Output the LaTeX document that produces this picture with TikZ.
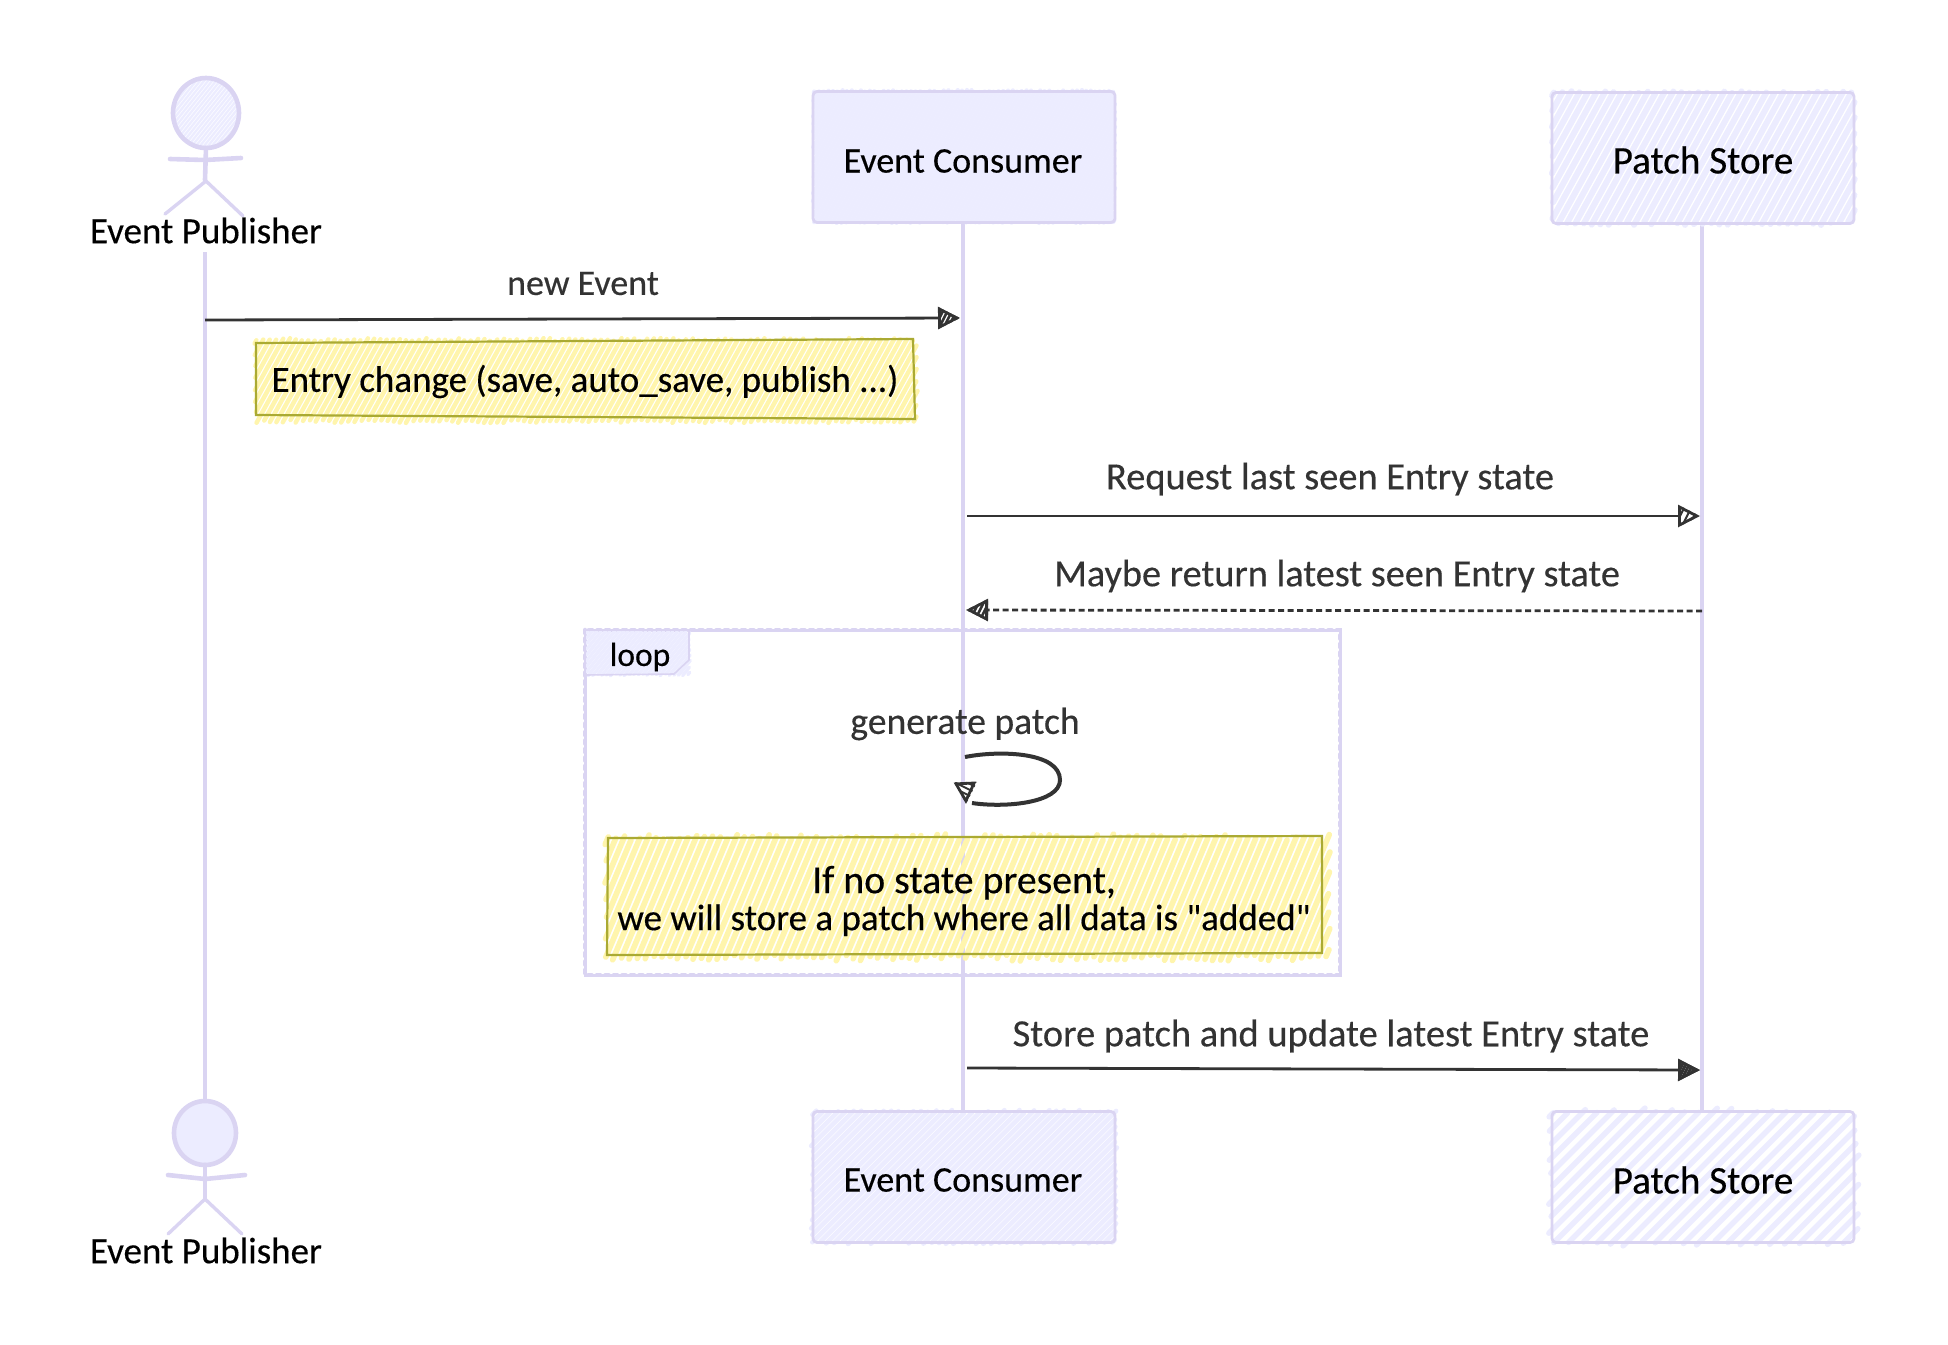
\documentclass[tikz,border=0pt]{standalone}
\usepackage{fontspec}
\newfontfamily\handfont[FakeBold=0.35]{Carlito}
\usetikzlibrary{arrows.meta}
\definecolor{lilac}{HTML}{DAD4F2}
\definecolor{lilacfill}{HTML}{ECECFF}
\definecolor{notefill}{HTML}{FFF5AD}
\definecolor{noteline}{HTML}{AAAA33}
\definecolor{ink}{HTML}{333333}
\newcommand{\handsize}[1]{\handfont\fontsize{#1}{38}\selectfont}
\tikzset{
  lifeline/.style={draw=lilac,line width=4.6pt},
  box/.style={draw=lilac,line width=2.8pt,rounded corners=4pt,minimum width=302pt,minimum height=131pt,inner sep=0pt},
  actorpart/.style={draw=lilac,line width=4.6pt,line cap=round},
  nametext/.style={font=\handfont\fontsize{37}{38}\selectfont,text=black,inner sep=0pt},
  msglabel/.style={font=\handfont\fontsize{37.6}{38}\selectfont,text=ink,inner sep=0pt},
  notetext/.style={font=\handfont\fontsize{37}{37}\selectfont,text=black,inner sep=0pt,align=center},
  msg/.style={draw=ink,line width=2.8pt,-{Triangle[length=22pt,width=22pt,fill=white]}},
  msgdash/.style={msg,dash pattern=on 6pt off 3.5pt},
  noteedge/.style={draw=noteline,line width=2.2pt},
  loopedge/.style={draw=lilac,line width=4.6pt,line cap=round,dash pattern=on 3pt off 5.5pt},
  loopbase/.style={draw=lilac,line width=3pt},
}
% x1 y1 x2 y2 colour gap width slope overshoot
\newcommand{\hach}[9]{%
  \pgfmathsetmacro{\hh}{#4-#2}%
  \pgfmathsetmacro{\cstart}{#1-#8*\hh}%
  \pgfmathsetmacro{\cnext}{\cstart+#6}%
  \foreach \cc in {\cstart,\cnext,...,#3}{%
    \pgfmathsetmacro{\tzero}{max(0,(#1-\cc)/#8)-rnd*#9}%
    \pgfmathsetmacro{\tone}{min(\hh,(#3-\cc)/#8)+rnd*#9}%
    \draw[#5,line width=#7pt,line cap=round] ({\cc+#8*\tzero},{#4-\tzero}) -- ({\cc+#8*\tone},{#4-\tone});
  }}
% tip, paper angle, gap, line width: dark hatch inside an arrow head
\newcommand{\headhatch}[4]{%
  \begin{scope}[shift={(#1)},rotate=#2]
    \clip (0,0) -- (-22,-11) -- (-22,11) -- cycle;
    \pgfmathsetmacro{\knext}{-40+#3}%
    \foreach \k in {-40,\knext,...,20}{\draw[ink,line width=#4pt] (\k,12) -- ({\k+12},-12);}
  \end{scope}}
\begin{document}
\begin{tikzpicture}[x=1pt,y=-1pt]
\useasboundingbox (0,0) rectangle (1948,1344);
\pgfmathsetseed{11}
\coordinate (pubtop) at (205,252);
\coordinate (pubbot) at (205,1099);
\coordinate (ecTopAnchor) at (963,222);
\coordinate (ecBotAnchor) at (963,1112);
\coordinate (psTopAnchor) at (1702,223);
\coordinate (psBotAnchor) at (1702,1112);
\draw[lifeline] (pubtop) -- (pubbot);
\draw[lifeline] (ecTopAnchor) -- (ecBotAnchor);
\draw[lifeline] (psTopAnchor) -- (psBotAnchor);
% loop frame
\draw[loopbase] (585,630) rectangle (1340,975);
\draw[loopedge] (585,630) rectangle (1340,975);
\hach{587}{632}{689}{674}{lilacfill}{4.5}{3.4}{0.8}{2}
\draw[draw=lilac,line width=1.6pt] (585,630) -- (689,630) -- (689,660) -- (674,674) -- (585,675) -- cycle;
\node[nametext,font=\handsize{33.5}] (looplabel) at (640,657) {loop};
% boxes
\hach{814}{92}{1114}{221}{lilacfill}{4.6}{4.2}{0.6}{2}
\node[box] (ecTop) at (964,157) {};
\node[nametext,font=\handsize{36}] (ecTopLabel) at (963,161) {Event Consumer};
\hach{1553}{94}{1854}{222}{lilacfill}{8.5}{6}{0.55}{3}
\node[box] (psTop) at (1703,158) {};
\node[nametext,font=\handsize{39.2}] (psTopLabel) at (1703,160) {Patch Store};
\hach{814}{1113}{1114}{1241}{lilacfill}{7.5}{4.6}{1}{3}
\node[box] (ecBot) at (964,1177) {};
\node[nametext,font=\handsize{36}] (ecBotLabel) at (963,1180) {Event Consumer};
\hach{1553}{1113}{1854}{1241}{lilacfill}{14.5}{5.4}{1}{5}
\node[box] (psBot) at (1703,1177) {};
\node[nametext,font=\handsize{39.2}] (psBotLabel) at (1703,1180) {Patch Store};
% actor top
\begin{scope}
  \clip (206,113) ellipse [x radius=33pt,y radius=35pt];
  \hach{172}{76}{240}{150}{lilacfill}{4}{2.4}{0.8}{0}
\end{scope}
\draw[actorpart] (206,113) ellipse [x radius=33pt,y radius=35pt];
\draw[actorpart] (206,148) -- (205,180);
\draw[actorpart] (170,159) -- (205,160) -- (241,158);
\draw[actorpart,line width=3.4pt] (165,214) -- (206,181) -- (243,216);
\node[nametext] (pubTopLabel) at (206,230.5) {Event Publisher};
% actor bottom
\begin{scope}
  \clip (205,1133) ellipse [x radius=31pt,y radius=32pt];
  \hach{172}{1100}{238}{1166}{lilacfill}{4}{3.6}{0.8}{0}
\end{scope}
\draw[actorpart] (205,1133) ellipse [x radius=31pt,y radius=32pt];
\draw[actorpart] (205,1165) -- (205,1199);
\draw[actorpart] (168,1175) -- (205,1179) -- (245,1175);
\draw[actorpart,line width=3.4pt] (168,1234) -- (205,1199) -- (242,1234);
\node[nametext] (pubBotLabel) at (206,1250.5) {Event Publisher};
% notes
\hach{256}{341}{916}{420}{notefill}{6.5}{4.4}{0.55}{3}
\draw[noteedge] (256,343) -- (913,339) -- (915,419) -- (256,415) -- cycle;
\node[notetext] (note1) at (585,381.5) {Entry change (save, auto\_save, publish ...)};
\hach{607}{840}{1328}{955}{notefill}{8}{5.6}{0.42}{6}
\draw[noteedge] (608,838) -- (1322,836) -- (1322,953) -- (607,955) -- cycle;
\node[notetext] (note2) at (964,901) {{\fontsize{39.8}{37}\selectfont If no state present,}\\we will store a patch where all data is "added"};
% messages
\coordinate (m1a) at (205,320); \coordinate (m1b) at (960,318);
\coordinate (m2a) at (967,516); \coordinate (m2b) at (1700,516);
\coordinate (m3a) at (1702,611); \coordinate (m3b) at (966,610);
\coordinate (m4a) at (967,1068); \coordinate (m4b) at (1700,1070);
\draw[msg] (m1a) -- (m1b);
\headhatch{m1b}{0}{4.5}{2.6}
\draw[msg] (m2a) -- (m2b);
\headhatch{m2b}{0}{7}{2}
\draw[msgdash] (m3a) -- (m3b);
\headhatch{m3b}{180}{5}{2.6}
\draw[msg] (m4a) -- (m4b);
\headhatch{m4b}{0}{3.4}{3}
\node[msglabel,font=\handsize{36}] (m1label) at (583,283.5) {new Event};
\node[msglabel,font=\handsize{38.4}] (m2label) at (1330,479) {Request last seen Entry state};
\node[msglabel,font=\handsize{38.3}] (m3label) at (1337,576) {Maybe return latest seen Entry state};
\node[msglabel] (selflabel) at (965,724) {generate patch};
\node[msglabel,font=\handsize{38.5}] (m4label) at (1331,1036) {Store patch and update latest Entry state};
% self arrow
\coordinate (selfa) at (965,757); \coordinate (selfb) at (972,803);
\coordinate (selfc) at (965,782); \coordinate (selfd) at (966,804);
\draw[draw=ink,line width=4pt] (selfa) .. controls (1000,750) and (1060,752) .. (1060,780) .. controls (1060,803) and (1005,808) .. (selfb);
\draw[msg] (selfc) -- (selfd);
\headhatch{selfd}{-90}{6}{1.8}
\end{tikzpicture}
\end{document}
